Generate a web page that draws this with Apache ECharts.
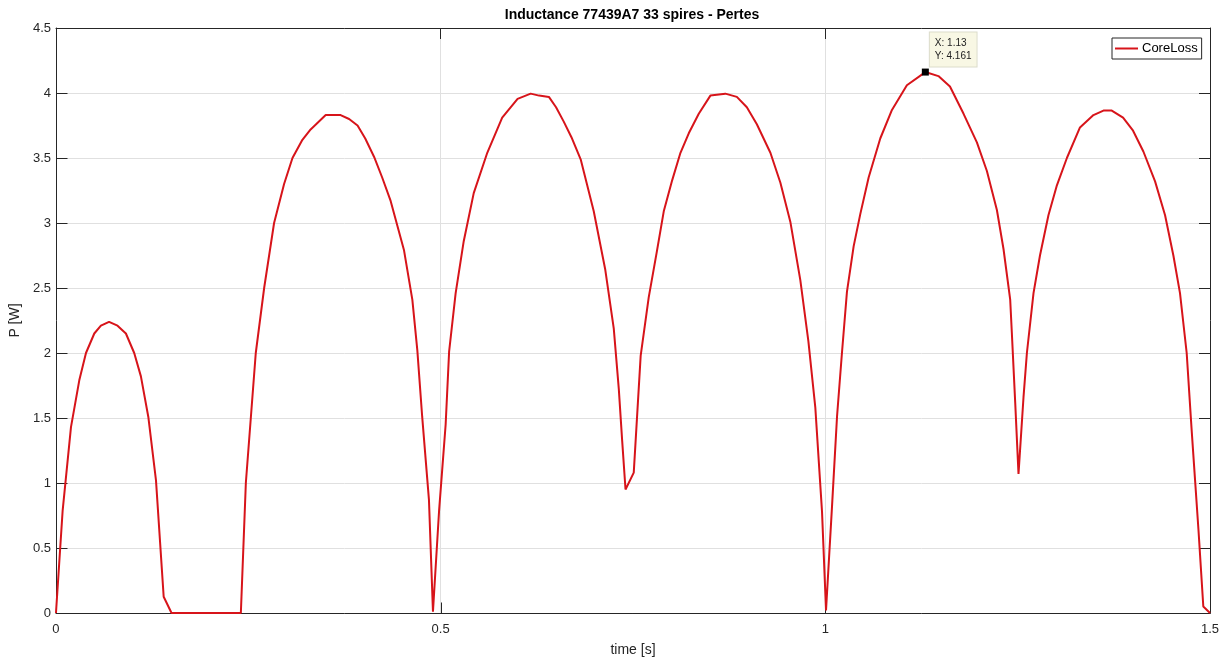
<!DOCTYPE html>
<html>
<head>
<meta charset="utf-8">
<title>Inductance 77439A7 33 spires - Pertes</title>
<script src="https://cdn.jsdelivr.net/npm/echarts@6/dist/echarts.min.js"></script>
<style>
  html, body { margin: 0; padding: 0; background: #fff; }
  #chart { width: 1229px; height: 662px; }
</style>
</head>
<body>
<div id="chart"></div>
<script>
// time [s] samples
const timeS = [
  0, 0.0087, 0.0195, 0.0303, 0.039, 0.0498, 0.0584, 0.069, 0.080, 0.0909,
  0.1017, 0.1104, 0.12, 0.13, 0.14, 0.1502, 0.2403,
  0.2468, 0.2597, 0.2706, 0.2835, 0.2965, 0.3074, 0.3203, 0.331, 0.3506,
  0.370, 0.381, 0.392, 0.402, 0.4134, 0.424, 0.435, 0.4524, 0.4632, 0.4697,
  0.476, 0.4848, 0.490,
  0.498, 0.5065, 0.511, 0.5195, 0.530, 0.543, 0.5606, 0.580, 0.600, 0.617,
  0.628, 0.6407, 0.650, 0.660, 0.670, 0.682, 0.699, 0.714, 0.725, 0.7316,
  0.736, 0.7403, 0.751,
  0.760, 0.7705, 0.781, 0.790, 0.801, 0.8117, 0.8225, 0.8355, 0.8506, 0.870,
  0.885, 0.898, 0.911, 0.9286, 0.9416, 0.9545, 0.9675, 0.978, 0.987, 0.9957,
  1.0009,
  1.0087, 1.0152, 1.0216, 1.0281, 1.0368, 1.0455, 1.0563, 1.0714, 1.0866, 1.106,
  1.13, 1.147, 1.162, 1.1797, 1.197, 1.210, 1.223, 1.2316, 1.2403, 1.2424,
  1.2468, 1.2511,
  1.2576, 1.262, 1.2706, 1.279, 1.290, 1.301, 1.314, 1.331, 1.3485, 1.3615,
  1.3723, 1.387, 1.400, 1.4134, 1.4286, 1.4416, 1.4524, 1.461, 1.4697, 1.476,
  1.4805, 1.485, 1.4913, 1.5
]
// CoreLoss P [W]
const coreLossW = [
  0, 0.79, 1.43, 1.79, 2.0, 2.15, 2.21, 2.24, 2.21, 2.15,
  2.0, 1.82, 1.51, 1.02, 0.125, 0, 0,
  1.0, 2.0, 2.5, 3.0, 3.30, 3.5, 3.64, 3.72, 3.83,
  3.83, 3.80, 3.75, 3.65, 3.51, 3.35, 3.17, 2.79, 2.41, 2.02,
  1.51, 0.87, 0.01,
  0.79, 1.45, 2.01, 2.46, 2.86, 3.23, 3.54, 3.81, 3.955, 3.995,
  3.98, 3.97, 3.89, 3.78, 3.66, 3.49, 3.09, 2.64, 2.19, 1.72,
  1.32, 0.95, 1.08,
  1.98, 2.43, 2.78, 3.09, 3.33, 3.54, 3.69, 3.84, 3.98, 3.995,
  3.97, 3.89, 3.76, 3.54, 3.31, 3.01, 2.56, 2.09, 1.58, 0.78,
  0.02,
  0.82, 1.51, 2.0, 2.47, 2.82, 3.07, 3.35, 3.65, 3.87, 4.06,
  4.161, 4.13, 4.05, 3.84, 3.62, 3.40, 3.10, 2.80, 2.41, 2.16,
  1.62, 1.07,
  1.66, 2.0, 2.46, 2.75, 3.06, 3.29, 3.50, 3.735, 3.83, 3.865,
  3.865, 3.81, 3.71, 3.55, 3.32, 3.06, 2.75, 2.46, 2.0, 1.42,
  1.03, 0.64, 0.05, 0
]
const xTicks = [0, 1.5, 0.5]   // min, max, step
const yTicks = [0, 4.5, 0.5]
const seriesName = 'CoreLoss'
const datatipT = 1.13
const datatipP = 4.161

const axisColor = '#262626'
const gridColor = '#e0e0e0'
const lineColor = '#d7141a'
const font = 'Liberation Sans, Arial, Helvetica, sans-serif'
const tickLen = 11

const chart = echarts.init(document.getElementById('chart'))

const lineEdge = () => ({ show: true, onZero: false, lineStyle: { color: axisColor, width: 1 } })
const hidden = { show: false }

const baseX = { type: 'value', min: xTicks[0], max: xTicks[1], interval: xTicks[2] }
const baseY = { type: 'value', min: yTicks[0], max: yTicks[1], interval: yTicks[2] }

// top / right box edges with inward ticks
const edgeAxis = (base, position) => ({
  ...base,
  z: 1,
  position,
  axisLine: lineEdge(),
  axisTick: { show: true, inside: true, length: tickLen, lineStyle: { color: axisColor, width: 1 } },
  axisLabel: hidden,
  splitLine: hidden,
})

chart.setOption({
  animation: false,
  backgroundColor: '#fff',
  title: {
    text: 'Inductance 77439A7 33 spires - Pertes',
    left: 632,
    top: 8,
    padding: 0,
    textAlign: 'center',
    textStyle: { fontFamily: font, fontSize: 14, fontWeight: 'bold', color: '#000' },
  },
  legend: {
    data: [seriesName],
    left: 1112,
    top: 38,
    padding: [4, 4, 4, 3],
    backgroundColor: '#fff',
    borderColor: axisColor,
    borderWidth: 1,
    borderRadius: 0,
    icon: 'rect',
    itemWidth: 23,
    itemHeight: 2,
    itemGap: 0,
    textStyle: { fontFamily: font, fontSize: 13, color: '#000', padding: [0, 0, 0, -1] },
  },
  grid: { left: 55, right: 19, top: 28, bottom: 49, containLabel: false },
  xAxis: [
    {
      ...baseX,
      z: 0,
      position: 'bottom',
      name: 'time [s]',
      nameLocation: 'middle',
      nameGap: 30,
      nameTextStyle: { fontFamily: font, fontSize: 14, color: axisColor },
      axisLine: lineEdge(),
      axisTick: hidden,
      axisLabel: { fontFamily: font, fontSize: 13, color: axisColor, margin: 10 },
      splitLine: { show: true, lineStyle: { color: gridColor, width: 1 } },
    },
    edgeAxis(baseX, 'top'),
  ],
  yAxis: [
    {
      ...baseY,
      z: 0,
      position: 'left',
      name: 'P [W]',
      nameLocation: 'middle',
      nameGap: 29,
      nameTextStyle: { fontFamily: font, fontSize: 14, color: axisColor },
      axisLine: lineEdge(),
      axisTick: hidden,
      axisLabel: { fontFamily: font, fontSize: 13, color: axisColor, margin: 5 },
      splitLine: { show: true, lineStyle: { color: gridColor, width: 1 } },
    },
    edgeAxis(baseY, 'right'),
  ],
  series: [
    {
      name: seriesName,
      type: 'line',
      xAxisIndex: 0,
      yAxisIndex: 0,
      data: timeS.map((t, i) => [t, coreLossW[i]]),
      showSymbol: false,
      symbol: 'none',
      lineStyle: { color: lineColor, width: 2 },
      itemStyle: { color: lineColor },
      markPoint: {
        silent: true,
        data: [
          {
            coord: [datatipT, datatipP],
            symbol: 'rect',
            symbolSize: 7,
            itemStyle: { color: '#000' },
            label: {
              show: true,
              position: [8, -36],
              formatter: 'X: ' + datatipT + '\nY: ' + datatipP,
              fontFamily: font,
              fontSize: 10,
              lineHeight: 13,
              color: '#222',
              align: 'left',
              backgroundColor: '#f8f7e4',
              borderColor: '#dcdccb',
              borderWidth: 1,
              padding: [4, 5, 4, 5],
            },
          },
        ],
      },
    },
  ],
})

// left / bottom inward ticks, placed through the chart's own scales
function drawInnerTicks() {
  const finder = { xAxisIndex: 0, yAxisIndex: 0 }
  const marks = []
  const crisp = (v) => Math.round(v) + 0.5
  for (let v = yTicks[0]; v <= yTicks[1] + 1e-9; v += yTicks[2]) {
    const [px, py] = chart.convertToPixel(finder, [xTicks[0], v])
    marks.push({ x1: crisp(px), y1: crisp(py), x2: crisp(px) + tickLen, y2: crisp(py) })
  }
  for (let v = xTicks[0]; v <= xTicks[1] + 1e-9; v += xTicks[2]) {
    const [px, py] = chart.convertToPixel(finder, [v, yTicks[0]])
    marks.push({ x1: crisp(px), y1: crisp(py), x2: crisp(px), y2: crisp(py) - tickLen })
  }
  chart.setOption({
    graphic: marks.map((shape) => ({
      type: 'line',
      silent: true,
      z: 1,
      shape,
      style: { stroke: axisColor, lineWidth: 1 },
    })),
  })
}
drawInnerTicks()

window.addEventListener('resize', () => {
  chart.resize()
  drawInnerTicks()
})
</script>
</body>
</html>
